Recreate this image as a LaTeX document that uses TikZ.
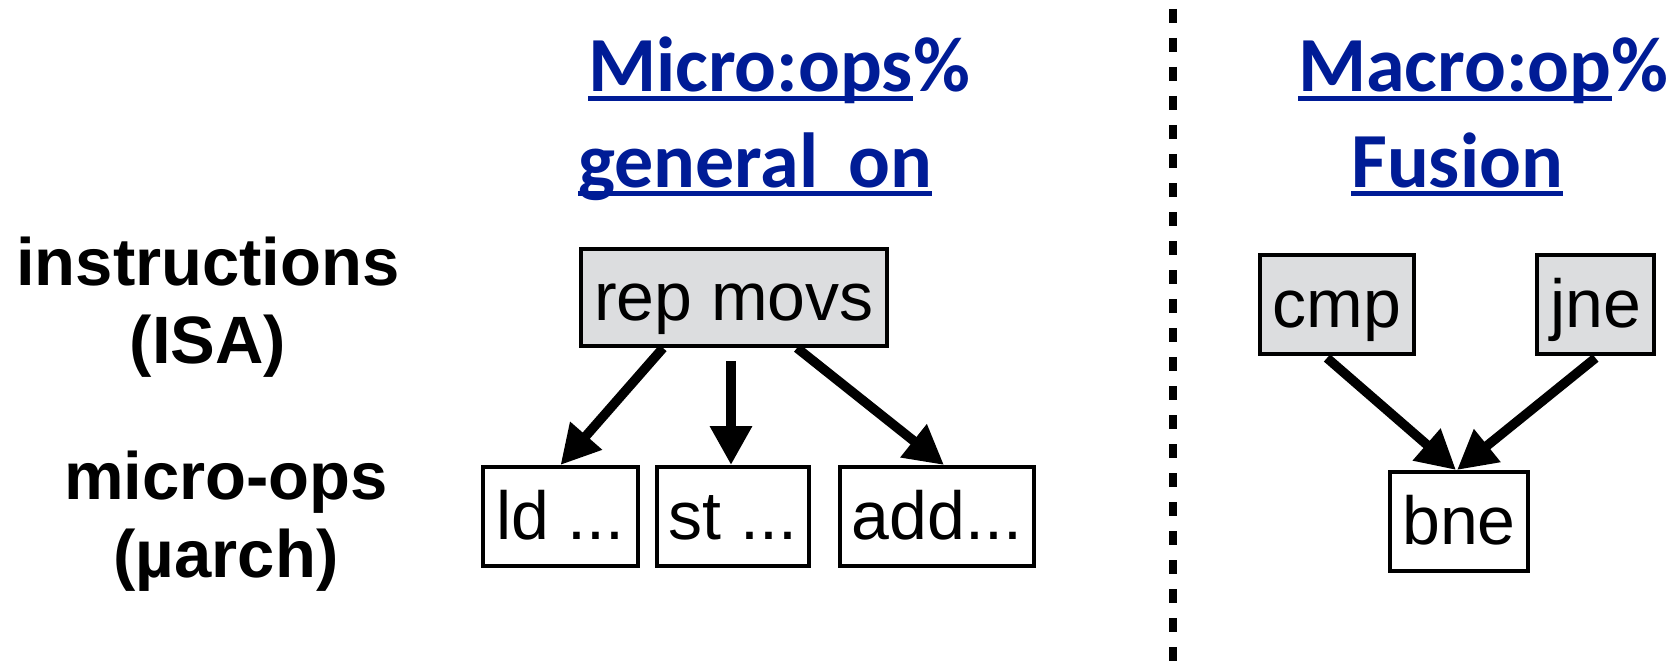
\documentclass[tikz,border=0pt]{standalone}
\usepackage{fontspec}
\setmainfont{Liberation Sans}
\newfontfamily\calibfont{Carlito}
\usetikzlibrary{arrows.meta}
\definecolor{title_blue}{RGB}{0, 28, 150}
\definecolor{isa_gray}{RGB}{220, 221, 223}

\begin{document}
\begin{tikzpicture}[
        x=1pt, y=-1pt,
        every node/.style={inner sep=0pt},
        box/.style={draw, line width=4pt, minimum height=99pt, text height=56pt, text depth=10pt,
            font=\fontsize{68}{72}\selectfont},
        isabox/.style={box, fill=isa_gray},
        uop/.style={box, fill=white},
        arr/.style={line width=9.5pt, -{Triangle[length=39pt, width=40pt]}},
        heading/.style={anchor=base west, text=title_blue, font=\calibfont\bfseries\fontsize{78}{90}\selectfont},
        uline/.style={title_blue, line width=5pt},
        rowlabel/.style={anchor=base, align=center, font=\bfseries\fontsize{67}{78}\selectfont},
        sepline/.style={line width=7.5pt, dash pattern=on 14pt off 15pt}
    ]
        \useasboundingbox (0, 0) rectangle (1676, 666);

        % -------- Etichette di riga (base = ultima riga) --------
        \node[rowlabel] (isa) at (208, 363) {instructions\\(ISA)};
        \node[rowlabel] (uarch) at (226, 577) {micro-ops\\(µarch)};

        % -------- Titoli --------
        \node[heading] (mic) at (588, 92) {Micro:ops};
        \node[heading] (micpct) at (mic.base east) {\%};
        \node[heading] (gen) at (578, 187) {general\hspace{30pt}on};
        \node[heading] (mac) at (1298, 92) {Macro:op};
        \node[heading] (macpct) at (mac.base east) {\%};
        \node[heading] (fus) at (1351, 187) {Fusion};

        \draw[uline] ([yshift=-7pt]mic.base west) -- ([yshift=-7pt]mic.base east);
        \draw[uline] ([yshift=-6pt]gen.base west) -- ([yshift=-6pt]gen.base east);
        \draw[uline] ([yshift=-7pt]mac.base west) -- ([yshift=-7pt]mac.base east);
        \draw[uline] ([yshift=-6pt]fus.base west) -- ([yshift=-6pt]fus.base east);

        % -------- Micro-ops: una istruzione, tre uop --------
        \node[isabox, minimum width=306pt, minimum height=97pt] (rep) at (734, 297.5) {rep movs};
        \node[uop, minimum width=155pt] (ld) at (560.5, 516.5) {ld ...};
        \node[uop, minimum width=152pt] (st) at (733, 516.5) {st ...};
        \node[uop, minimum width=194pt] (add) at (937, 516.5) {add...};

        \draw[arr] ([xshift=-71pt]rep.south) -- (ld.north);
        \draw[arr] ([xshift=-3pt, yshift=-13pt]rep.south) -- ([xshift=-2pt]st.north);
        \draw[arr] ([xshift=63pt]rep.south) -- ([xshift=7pt]add.north);

        % -------- Separatore --------
        \coordinate (sepTop) at (1173, 9);
        \coordinate (sepBot) at (1173, 666);
        \draw[sepline] (sepTop) -- (sepBot);

        % -------- Macro-op fusion: due istruzioni, una uop --------
        \node[isabox, minimum width=154pt] (cmp) at (1337, 304.5) {cmp};
        \node[isabox, minimum width=117pt] (jne) at (1595.5, 304.5) {jne};
        \node[uop, minimum width=138pt] (bne) at (1459, 521.5) {bne};

        \draw[arr] ([xshift=-10pt, yshift=-2pt]cmp.south) -- ([xshift=-3pt]bne.north);
        \draw[arr] ([yshift=-2pt]jne.south) -- ([xshift=-2pt]bne.north);

    \end{tikzpicture}
\end{document}
